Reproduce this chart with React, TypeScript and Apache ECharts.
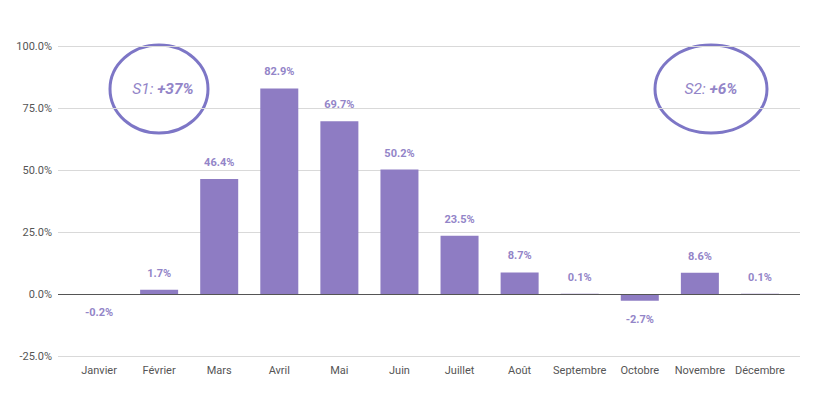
import React, { useEffect, useRef } from "react";
import * as echarts from "echarts";

const months = ["Janvier", "Février", "Mars", "Avril", "Mai", "Juin", "Juillet", "Août", "Septembre", "Octobre", "Novembre", "Décembre"];
const growth = [-0.2, 1.7, 46.4, 82.9, 69.7, 50.2, 23.5, 8.7, 0.1, -2.7, 8.6, 0.1];
const yTicks = { min: -25, max: 100, interval: 25 };
const notes = [
  { label: "S1: ", value: "+37%" },
  { label: "S2: ", value: "+6%" },
];

const PURPLE = "#8e7cc3";
const LABEL = "#9385c8";
const RING = "#7d76c6";

export default function App() {
  const ref = useRef<HTMLDivElement>(null);
  useEffect(() => {
    if (!ref.current) return;
    const chart = echarts.init(ref.current, null, { renderer: "svg" });
    const font = "Roboto, Arial, sans-serif";
    const richText = {
      a: { fontSize: 15.5, fontStyle: "italic", fill: LABEL, fontFamily: font },
      b: { fontSize: 15.5, fontStyle: "italic", fontWeight: "bold", fill: LABEL, fontFamily: font },
    };
    chart.setOption({
      animation: false,
      textStyle: { fontFamily: font },
      grid: [
        { left: 58, right: 22, top: 46, bottom: 39 },
        { left: 69, right: 32, top: 46, bottom: 39 },
      ],
      xAxis: [
        { gridIndex: 0, type: "value", min: 0, max: 1, show: false },
        {
          gridIndex: 1,
          type: "category",
          data: months,
          axisLine: { show: false },
          axisTick: { show: false },
          axisLabel: { color: "#555", fontSize: 11, margin: 9, fontFamily: font, interval: 0 },
          position: "bottom",
        },
      ],
      yAxis: [
        {
          gridIndex: 0,
          type: "value",
          min: yTicks.min,
          max: yTicks.max,
          interval: yTicks.interval,
          axisLine: { show: false },
          axisTick: { show: false },
          axisLabel: {
            color: "#555",
            fontSize: 11,
            margin: 6,
            fontFamily: font,
            formatter: (v: number) => v.toFixed(1) + "%",
          },
          splitLine: { lineStyle: { color: "#d9d9d9", width: 1 } },
        },
        {
          gridIndex: 1,
          type: "value",
          min: yTicks.min,
          max: yTicks.max,
          interval: yTicks.interval,
          show: false,
          splitLine: { show: false },
        },
      ],
      series: [
        {
          type: "line",
          xAxisIndex: 0,
          yAxisIndex: 0,
          data: [],
          markLine: {
            silent: true,
            symbol: "none",
            label: { show: false },
            lineStyle: { color: "#555", width: 1, type: "solid" },
            data: [{ yAxis: 0 }],
          },
        },
        {
          type: "bar",
          xAxisIndex: 1,
          yAxisIndex: 1,
          data: growth.map((v) =>
            v < 0 ? { value: v, label: { position: "bottom", distance: 13 } } : v
          ),
          barWidth: 38,
          itemStyle: { color: PURPLE },
          label: {
            show: true,
            position: "top",
            distance: 11,
            color: LABEL,
            fontSize: 11,
            fontWeight: "bold",
            fontFamily: font,
            formatter: (p: any) => p.value.toFixed(1) + "%",
          },
          z: 3,
        },
      ],
      graphic: [
        {
          type: "ellipse",
          shape: { cx: 159, cy: 89, rx: 49, ry: 44 },
          style: { fill: "none", stroke: RING, lineWidth: 3 },
        },
        {
          type: "text",
          x: 163,
          y: 89,
          style: {
            text: `{a|${notes[0].label}}{b|${notes[0].value}}`,
            align: "center",
            verticalAlign: "middle",
            rich: richText,
          },
        },
        {
          type: "ellipse",
          shape: { cx: 711, cy: 89, rx: 56, ry: 44 },
          style: { fill: "none", stroke: RING, lineWidth: 3 },
        },
        {
          type: "text",
          x: 711,
          y: 89,
          style: {
            text: `{a|${notes[1].label}}{b|${notes[1].value}}`,
            align: "center",
            verticalAlign: "middle",
            rich: richText,
          },
        },
      ],
    });
    return () => chart.dispose();
  }, []);
  return (
    <div
      ref={ref}
      style={{ position: "fixed", left: 0, top: 0, width: 822, height: 395, background: "#fff" }}
    />
  );
}
